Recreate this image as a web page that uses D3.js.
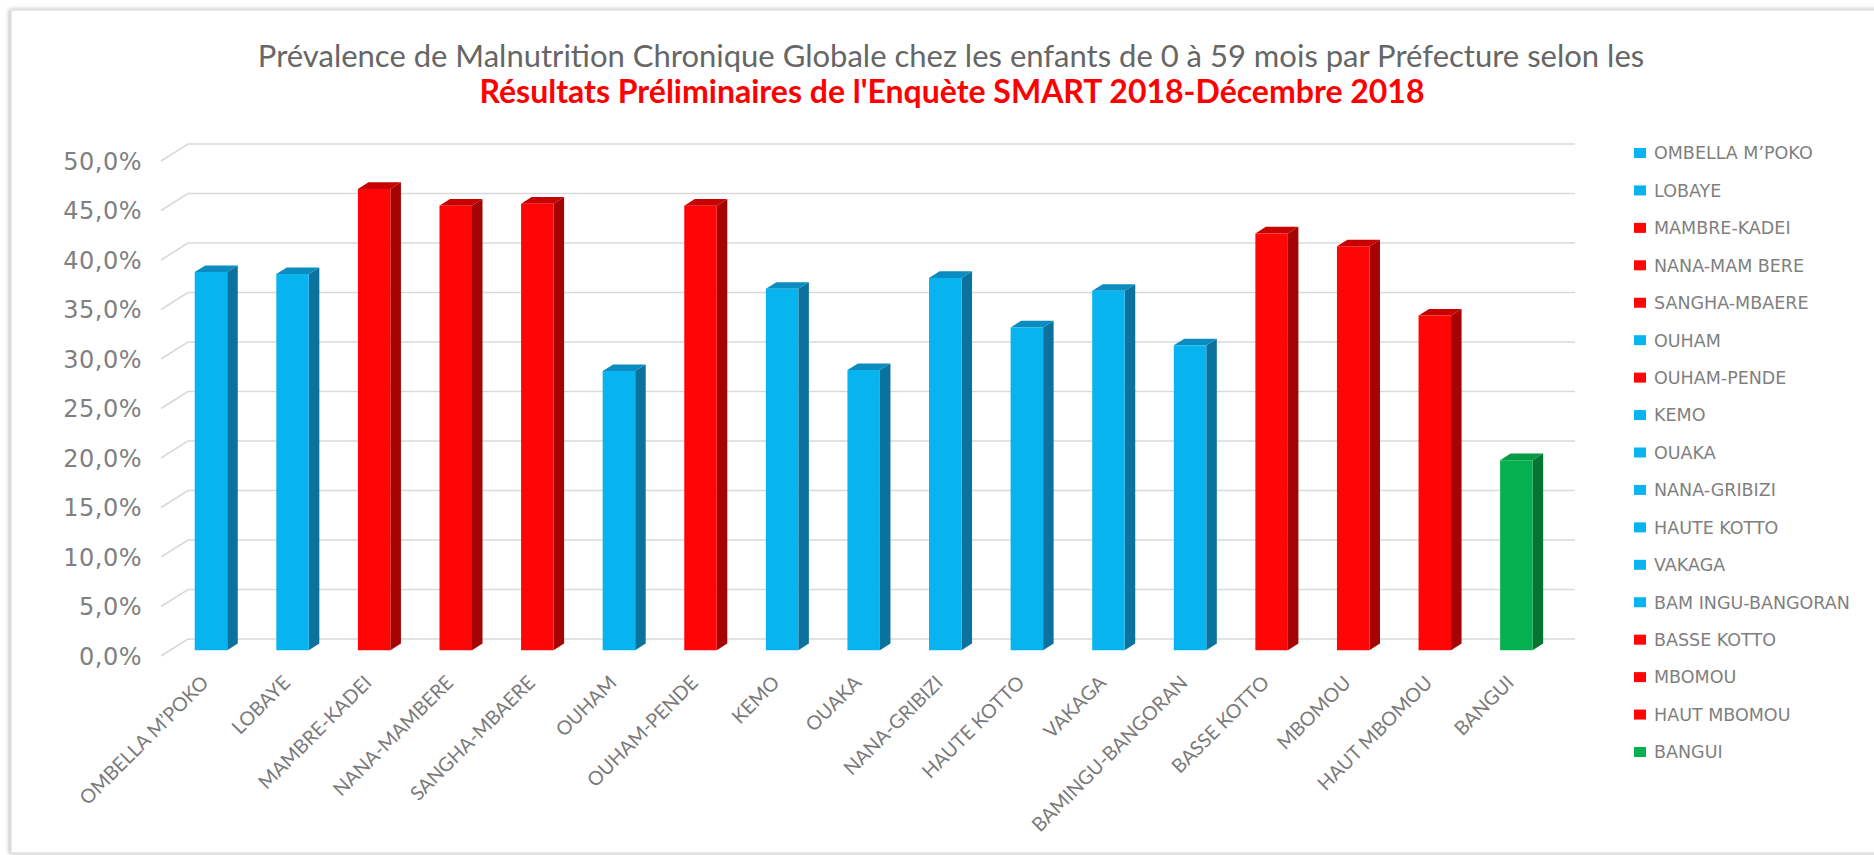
<!DOCTYPE html>
<html>
<head>
<meta charset="utf-8">
<script src="https://cdn.jsdelivr.net/npm/d3@7"></script>
<style>
  html, body { margin: 0; padding: 0; background: #ffffff; }
  svg { display: block; }
</style>
</head>
<body>
<svg id="svg" width="1874" height="855"></svg>
<script>
// prefectures, in chart order
const categories = ["OMBELLA M’POKO", "LOBAYE", "MAMBRE-KADEI", "NANA-MAMBERE", "SANGHA-MBAERE",
  "OUHAM", "OUHAM-PENDE", "KEMO", "OUAKA", "NANA-GRIBIZI", "HAUTE KOTTO", "VAKAGA",
  "BAMINGU-BANGORAN", "BASSE KOTTO", "MBOMOU", "HAUT MBOMOU", "BANGUI"];
// legend spells two names with a gap, like the original
const legendLabels = ["OMBELLA M’POKO", "LOBAYE", "MAMBRE-KADEI", "NANA-MAM BERE", "SANGHA-MBAERE",
  "OUHAM", "OUHAM-PENDE", "KEMO", "OUAKA", "NANA-GRIBIZI", "HAUTE KOTTO", "VAKAGA",
  "BAM INGU-BANGORAN", "BASSE KOTTO", "MBOMOU", "HAUT MBOMOU", "BANGUI"];
// prevalence in %
const values = [38.2, 38.0, 46.6, 44.9, 45.1, 28.2, 44.9, 36.5, 28.3, 37.6, 32.6, 36.3, 30.8, 42.1, 40.8, 33.8, 19.2];
// colour group per prefecture: b = blue, r = red, g = green
const groups = ["b", "b", "r", "r", "r", "b", "r", "b", "b", "b", "b", "b", "b", "r", "r", "r", "g"];
const yTicks = [0, 5, 10, 15, 20, 25, 30, 35, 40, 45, 50];

const colors = {
  b: { front: "#08b4f0", side: "#0a729c", top: "#0a8cc0" },
  r: { front: "#fe0606", side: "#a50404", top: "#c80202" },
  g: { front: "#05b050", side: "#067532", top: "#059a44" }
};

const svg = d3.select("#svg");

// frame with soft shadow
const defs = svg.append("defs");
const f = defs.append("filter").attr("id", "shadow").attr("x", "-5%").attr("y", "-5%").attr("width", "110%").attr("height", "110%");
f.append("feDropShadow").attr("dx", -1).attr("dy", 0).attr("stdDeviation", 2).attr("flood-color", "#000").attr("flood-opacity", 0.3);
svg.append("rect").attr("x", 11).attr("y", 10).attr("width", 1880).attr("height", 843)
  .attr("fill", "#fff").attr("stroke", "#e0e0e0").attr("stroke-width", 1.5).attr("filter", "url(#shadow)");

// 3D oblique projection
const DX = 27, DY = 17;
const x = d3.scaleBand().domain(categories).range([161, 1548]).paddingInner(0).paddingOuter(0);
const y = d3.scaleLinear().domain([0, 50]).range([656, 161]);
const P = (px, v, d) => [px + DX * d, y(v) - DY * d];

// gridlines: back wall and left diagonal
const grid = svg.append("g").attr("stroke", "#d9d9d9").attr("stroke-width", 1.6).attr("fill", "none");
yTicks.forEach(t => {
  const a = P(x.range()[0], t, 0), b = P(x.range()[0], t, 1), c = P(x.range()[1], t, 1);
  grid.append("polyline").attr("points", [a, b, c].map(p => p.join(",")).join(" "));
});

// y axis labels
svg.append("g").selectAll("text").data(yTicks).join("text")
  .attr("x", 142).attr("y", d => y(d)).attr("dy", "0.36em")
  .attr("text-anchor", "end")
  .style("font-family", "'DejaVu Sans', Verdana, sans-serif").style("font-size", "24px")
  .style("letter-spacing", "0.5px")
  .style("fill", "#808080")
  .text(d => d3.format(".1f")(d).replace(".", ",") + "%");

// bars
const w = 32.5, d1 = 0.34, d2 = 0.73;
const bars = svg.append("g").selectAll("g").data(categories).join("g");
bars.each(function (c, i) {
  const g = d3.select(this);
  const v = values[i], col = colors[groups[i]];
  const x0 = x(c) + (x.bandwidth() - w) / 2, x1 = x0 + w;
  const poly = pts => pts.map(p => p.join(",")).join(" ");
  g.append("polygon").attr("fill", col.side)
    .attr("points", poly([P(x1, 0, d1), P(x1, v, d1), P(x1, v, d2), P(x1, 0, d2)]));
  g.append("polygon").attr("fill", col.top)
    .attr("points", poly([P(x0, v, d1), P(x1, v, d1), P(x1, v, d2), P(x0, v, d2)]));
  g.append("polygon").attr("fill", col.front)
    .attr("points", poly([P(x0, 0, d1), P(x0, v, d1), P(x1, v, d1), P(x1, 0, d1)]));
});

// x axis labels, rotated
svg.append("g").selectAll("text").data(categories).join("text")
  .attr("transform", c => `translate(${x(c) + x.bandwidth() / 2 + 8},${y(0) + 28}) rotate(-45)`)
  .attr("text-anchor", "end")
  .style("font-family", "Lato, 'Open Sans', sans-serif").style("font-size", "19.5px")
  .style("fill", "#7a7a7a")
  .text(c => c);

// title
const title = svg.append("text").attr("text-anchor", "middle")
  .style("font-family", "Lato, 'Open Sans', sans-serif");
title.append("tspan").attr("x", 951).attr("y", 67).style("font-size", "31px").style("fill", "#666666")
  .text("Prévalence de Malnutrition Chronique Globale chez les enfants de 0 à 59 mois par Préfecture selon les");
title.append("tspan").attr("x", 952).attr("y", 103).style("font-size", "32px").style("font-weight", "bold").style("fill", "#ff0000")
  .text("Résultats Préliminaires de l'Enquète SMART 2018-Décembre 2018");

// legend
const ly = d3.scalePoint().domain(categories).range([153, 752]);
const legend = svg.append("g").selectAll("g").data(categories).join("g")
  .attr("transform", c => `translate(1634,${ly(c)})`);
legend.append("rect").attr("x", 0).attr("y", -5).attr("width", 12).attr("height", 10)
  .attr("fill", (c, i) => colors[groups[i]].front);
legend.append("text").attr("x", 20).attr("dy", "0.36em")
  .style("font-family", "'DejaVu Sans', Verdana, sans-serif").style("font-size", "17.5px")
  .style("fill", "#7f7f7f")
  .text((c, i) => legendLabels[i]);
</script>
</body>
</html>
